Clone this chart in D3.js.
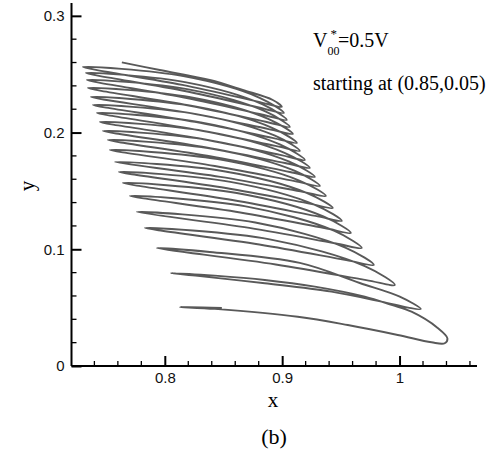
<!DOCTYPE html>
<html>
<head>
  <meta charset="utf-8">
  <script src="https://d3js.org/d3.v7.min.js"></script>
  <style>
    body { margin: 0; background: #fff; }
  </style>
</head>
<body>
  <div id="my_dataviz"></div>
<script>

  // trajectory, [x, y], in drawing order
  var trajectory = [
    [0.8486,0.0497], [0.8128,0.0506],
    [0.8426,0.0489], [0.9133,0.0422], [0.9559,0.0351], [0.9985,0.0266], [1.0272,0.0203], [1.0385,0.0195], [1.0408,0.0237],
    [1.0325,0.0326], [1.0102,0.0465], [0.9931,0.0523], [0.9704,0.0594], [0.9278,0.0680], [0.8852,0.0737], [0.8426,0.0774],
    [0.8051,0.0797],
    [0.8281,0.0772], [0.8852,0.0709], [0.9420,0.0637], [0.9846,0.0551], [1.0073,0.0500], [1.0181,0.0488],
    [1.0002,0.0594], [0.9661,0.0711], [0.9150,0.0883], [0.8383,0.0977],
    [0.7932,0.1011],
    [0.8945,0.0870], [0.9716,0.0736], [0.9960,0.0694], [0.9704,0.0855], [0.8894,0.1085],
    [0.7830,0.1183],
    [0.8805,0.1041], [0.9546,0.0907], [0.9781,0.0866], [0.9538,0.1015], [0.8771,0.1229],
    [0.7761,0.1320],
    [0.8720,0.1183], [0.9448,0.1052], [0.9678,0.1011], [0.9441,0.1159], [0.8690,0.1368],
    [0.7702,0.1457],
    [0.8643,0.1315], [0.9359,0.1182], [0.9585,0.1140], [0.9351,0.1281], [0.8613,0.1482],
    [0.7642,0.1568],
    [0.8575,0.1422], [0.9284,0.1286], [0.9508,0.1243], [0.9279,0.1381], [0.8558,0.1578],
    [0.7608,0.1663],
    [0.8520,0.1525], [0.9212,0.1395], [0.9431,0.1354], [0.9208,0.1484], [0.8503,0.1669],
    [0.7574,0.1748],
    [0.8473,0.1620], [0.9156,0.1496], [0.9372,0.1457], [0.9151,0.1587], [0.8451,0.1772],
    [0.7531,0.1851],
    [0.8426,0.1714], [0.9106,0.1584], [0.9321,0.1543], [0.9104,0.1673], [0.8417,0.1858],
    [0.7514,0.1937],
    [0.8396,0.1795], [0.9066,0.1662], [0.9278,0.1620], [0.9061,0.1750], [0.8375,0.1935],
    [0.7472,0.2014],
    [0.8353,0.1872], [0.9024,0.1739], [0.9235,0.1697], [0.9020,0.1827], [0.8341,0.2012],
    [0.7446,0.2091],
    [0.8319,0.1945], [0.8983,0.1809], [0.9193,0.1765], [0.8980,0.1898], [0.8307,0.2087],
    [0.7421,0.2168],
    [0.8285,0.2022], [0.8942,0.1886], [0.9150,0.1843], [0.8939,0.1973], [0.8268,0.2158],
    [0.7387,0.2237],
    [0.8256,0.2091], [0.8916,0.1955], [0.9125,0.1911], [0.8914,0.2041], [0.8247,0.2226],
    [0.7370,0.2305],
    [0.8230,0.2164], [0.8884,0.2030], [0.9091,0.1988], [0.8881,0.2118], [0.8217,0.2303],
    [0.7344,0.2382],
    [0.8204,0.2232], [0.8859,0.2093], [0.9065,0.2048], [0.8857,0.2181], [0.8200,0.2370],
    [0.7335,0.2451],
    [0.8187,0.2296], [0.8835,0.2153], [0.9039,0.2108], [0.8834,0.2241], [0.8183,0.2430],
    [0.7327,0.2511],
    [0.8170,0.2356], [0.8811,0.2213], [0.9014,0.2168], [0.8808,0.2298], [0.8158,0.2483],
    [0.7301,0.2562],
    [0.8149,0.2408], [0.8793,0.2265], [0.8997,0.2220],
    [0.8920,0.2279], [0.8664,0.2365], [0.8383,0.2451], [0.7957,0.2536], [0.7634,0.2601]
  ];

  var xMajor = [0.8, 0.9, 1.0];
  var xMajorLabels = ["0.8", "0.9", "1"];
  var xMinor = [0.74, 0.76, 0.78, 0.82, 0.84, 0.86, 0.88, 0.92, 0.94, 0.96, 0.98, 1.02, 1.04, 1.06];
  var yMajor = [0, 0.1, 0.2, 0.3];
  var yMajorLabels = ["0", "0.1", "0.2", "0.3"];
  var yMinor = [0.02, 0.04, 0.06, 0.08, 0.12, 0.14, 0.16, 0.18, 0.22, 0.24, 0.26, 0.28];

  var W = 497, H = 459;

  var svg = d3.select("#my_dataviz")
    .append("svg")
      .attr("width", W)
      .attr("height", H);

  var x = d3.scaleLinear().domain([0.7205, 1.066]).range([71.5, 477]);
  var y = d3.scaleLinear().domain([0, 0.311]).range([366, 3]);

  // the curve
  svg.append("path")
    .datum(trajectory)
    .attr("fill", "none")
    .attr("stroke", "#595959")
    .attr("stroke-width", 1.9)
    .attr("stroke-linejoin", "round")
    .attr("d", d3.line()
      .x(function(d) { return x(d[0]) })
      .y(function(d) { return y(d[1]) })
      .curve(d3.curveCatmullRom.alpha(0.5))
    );

  // X axis, ticks pointing up into the plot
  var gx = svg.append("g").attr("transform", "translate(0," + y(0) + ")");
  gx.call(d3.axisBottom(x).tickValues(xMajor).tickSize(-10).tickPadding(6)
      .tickFormat(function(d, i) { return xMajorLabels[i]; }));
  gx.append("g").selectAll("line").data(xMinor).enter().append("line")
    .attr("x1", function(d) { return x(d) }).attr("x2", function(d) { return x(d) })
    .attr("y1", 0).attr("y2", -5);

  // Y axis, ticks pointing right into the plot
  var gy = svg.append("g").attr("transform", "translate(" + x(0.7205) + ",0)");
  gy.call(d3.axisLeft(y).tickValues(yMajor).tickSize(-10).tickPadding(7)
      .tickFormat(function(d, i) { return yMajorLabels[i]; }));
  gy.append("g").selectAll("line").data(yMinor).enter().append("line")
    .attr("y1", function(d) { return y(d) }).attr("y2", function(d) { return y(d) })
    .attr("x1", 0).attr("x2", 5);

  svg.selectAll(".domain").attr("stroke", "#000").attr("stroke-width", 2);
  gx.selectAll("g > line").attr("stroke", "#000").attr("stroke-width", 1.3);
  gy.selectAll("g > line").attr("stroke", "#000").attr("stroke-width", 1.3);
  svg.selectAll(".tick line").attr("stroke", "#000").attr("stroke-width", 2);
  svg.selectAll(".tick text")
    .attr("font-family", "Liberation Sans, Arial, sans-serif")
    .attr("font-size", 15)
    .attr("fill", "#111");
  gx.selectAll(".domain").attr("d", "M" + x(0.7205) + ",0H" + x(1.066));
  gy.selectAll(".domain").attr("d", "M0," + y(0) + "V" + y(0.311));

  // axis titles
  var serif = "Liberation Serif, Times New Roman, serif";
  svg.append("text").attr("x", 273).attr("y", 407).attr("text-anchor", "middle")
    .attr("font-family", serif).attr("font-size", 21).text("x");
  svg.append("text").attr("transform", "translate(34,186) rotate(-90)").attr("text-anchor", "middle")
    .attr("font-family", serif).attr("font-size", 21).text("y");
  svg.append("text").attr("x", 274).attr("y", 444).attr("text-anchor", "middle")
    .attr("font-family", serif).attr("font-size", 22).text("(b)");

  // annotations
  var ann = svg.append("text").attr("x", 313).attr("y", 47)
    .attr("font-family", serif).attr("font-size", 20);
  ann.append("tspan").text("V");
  ann.append("tspan").attr("font-size", 12).attr("dy", 8).text("00");
  ann.append("tspan").attr("font-size", 13).attr("dx", -9).attr("dy", -17).text("*");
  ann.append("tspan").attr("dx", 1).attr("dy", 9).text("=0.5V");

  svg.append("text").attr("x", 313).attr("y", 90)
    .attr("font-family", serif).attr("font-size", 20)
    .text("starting at (0.85,0.05)");

</script>
</body>
</html>
